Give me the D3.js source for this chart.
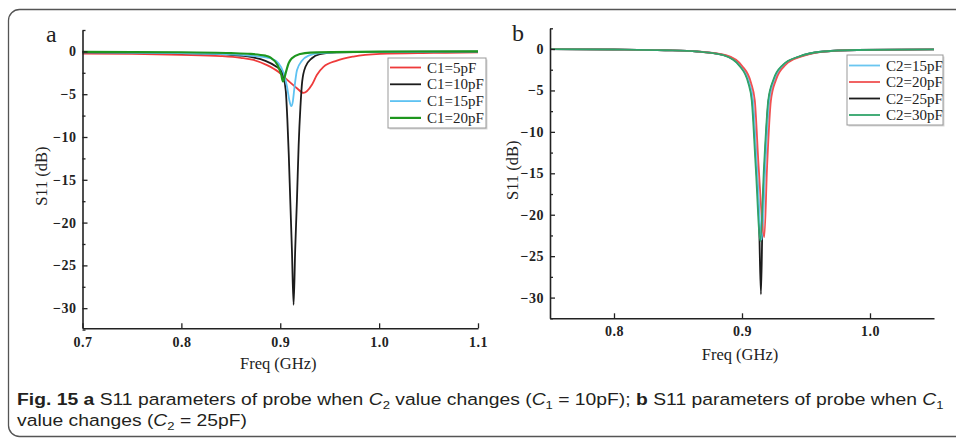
<!DOCTYPE html>
<html>
<head>
<meta charset="utf-8">
<script src="https://cdn.jsdelivr.net/npm/d3@7"></script>
<style>
  body { margin: 0; background: #fff; }
  svg { display: block; }
</style>
</head>
<body>
<div id="chart"></div>
<script>
// ---- data ----
// panel a: C2 = 25pF, C1 varies
var freqA5  = [0.70, 0.75, 0.80, 0.84, 0.86, 0.873, 0.8866, 0.8983, 0.9068, 0.9169, 0.9235, 0.932, 0.937, 0.9437, 0.9573, 0.974, 1.001, 1.055, 1.10];
var s11A5   = [-0.25, -0.3, -0.4, -0.55, -0.75, -1.0, -1.6, -2.4, -3.3, -4.3, -4.85, -3.9, -2.75, -1.8, -1.07, -0.6, -0.3, -0.18, -0.1];
var freqA10 = [0.70, 0.76, 0.82, 0.85, 0.87, 0.885, 0.895, 0.9017, 0.9055, 0.9072, 0.9086, 0.9101, 0.9118, 0.9135, 0.9151, 0.9169, 0.9186, 0.9204, 0.9222, 0.9255, 0.932, 0.940, 0.957, 1.0, 1.1];
var s11A10  = [-0.1, -0.15, -0.25, -0.4, -0.65, -1.1, -1.7, -2.4, -4.5, -8, -12, -17.3, -23.2, -29.6, -23.2, -17.3, -11, -6.5, -3.5, -1.8, -0.8, -0.33, -0.1, -0.05, -0.02];
var freqA15 = [0.70, 0.80, 0.85, 0.875, 0.89, 0.8983, 0.9033, 0.9068, 0.909, 0.9111, 0.9128, 0.9141, 0.9169, 0.9219, 0.9286, 0.9404, 0.97, 1.1];
var s11A15  = [-0.1, -0.2, -0.35, -0.55, -0.8, -1.4, -2.5, -4.1, -5.6, -6.4, -5.8, -4.5, -2.2, -1.1, -0.5, -0.2, -0.08, -0.02];
var freqA20 = [0.70, 0.80, 0.85, 0.87, 0.885, 0.8899, 0.8973, 0.9010, 0.9027, 0.9058, 0.9084, 0.9118, 0.9202, 0.9303, 1.0, 1.1];
var s11A20  = [-0.05, -0.1, -0.2, -0.3, -0.5, -0.7, -1.6, -2.7, -3.5, -2.4, -1.4, -0.8, -0.3, -0.14, -0.03, 0];

// panel b: C1 = 10pF, C2 varies
var freqB15 = [0.75, 0.80, 0.84, 0.865, 0.8864, 0.8994, 0.9059, 0.9086, 0.9117, 0.9154, 0.9182, 0.9214, 0.9255, 0.9330, 0.9450, 0.9640, 0.99, 1.05];
var s11B15  = [-0.02, -0.06, -0.15, -0.3, -0.75, -2.1, -4.1, -6.2, -14.2, -23.0, -14.2, -6.2, -3.7, -1.9, -0.93, -0.3, -0.12, -0.04];
var freqB20 = [0.75, 0.80, 0.84, 0.865, 0.8874, 0.9004, 0.9071, 0.9100, 0.9130, 0.9174, 0.9196, 0.9226, 0.9266, 0.9342, 0.9460, 0.9650, 0.99, 1.05];
var s11B20  = [-0.02, -0.06, -0.15, -0.3, -0.75, -2.1, -4.1, -6.2, -14.2, -22.7, -14.2, -6.2, -3.7, -1.9, -0.93, -0.3, -0.12, -0.04];
var freqB25 = [0.75, 0.80, 0.84, 0.865, 0.8859, 0.8989, 0.9054, 0.9081, 0.9112, 0.9133, 0.9148, 0.9160, 0.9177, 0.9208, 0.9250, 0.9325, 0.9445, 0.9640, 0.99, 1.05];
var s11B25  = [-0.02, -0.06, -0.15, -0.3, -0.75, -2.1, -4.1, -6.2, -14.2, -20.6, -29.6, -20.6, -14.2, -6.2, -3.7, -1.9, -0.93, -0.3, -0.12, -0.04];
var freqB30 = [0.75, 0.80, 0.84, 0.865, 0.8854, 0.8984, 0.9049, 0.9076, 0.9107, 0.9144, 0.9172, 0.9205, 0.9245, 0.9320, 0.9440, 0.9635, 0.99, 1.05];
var s11B30  = [-0.02, -0.06, -0.15, -0.3, -0.75, -2.1, -4.1, -6.2, -14.2, -23.2, -14.2, -6.2, -3.7, -1.9, -0.93, -0.3, -0.12, -0.04];

var legendA = ["C1=5pF", "C1=10pF", "C1=15pF", "C1=20pF"];
var legendB = ["C2=15pF", "C2=20pF", "C2=25pF", "C2=30pF"];
var xTicksA = [0.7, 0.8, 0.9, 1.0, 1.1];
var xTicksB = [0.8, 0.9, 1.0];
var yTicks  = [0, -5, -10, -15, -20, -25, -30];
var yMinorTicks = [2.5, -2.5, -7.5, -12.5, -17.5, -22.5, -27.5, -32.5];

var w = 956, h = 438;
var serif = "'Liberation Serif', 'Times New Roman', serif";

var svg = d3.select("#chart").append("svg")
  .attr("width", w)
  .attr("height", h);

// outer frame (rounded, runs off the right edge)
svg.append("rect")
  .attr("x", 8.5).attr("y", 9.5)
  .attr("width", 970).attr("height", 427)
  .attr("rx", 11).attr("ry", 11)
  .attr("fill", "none")
  .attr("stroke", "#555")
  .attr("stroke-width", 1.3);

function drawPanel(p) {
  var g = svg.append("g");

  var xScale = d3.scaleLinear().domain(p.xDomain).range(p.xRange);
  var yScale = d3.scaleLinear().domain([2.5, p.yBottom]).range(p.yRange);

  var line = d3.line()
    .x(function(d) { return xScale(d[0]); })
    .y(function(d) { return yScale(d[1]); })
    .curve(d3.curveMonotoneX);

  p.series.forEach(function(s) {
    var pts = s.freq.map(function(f, i) { return [f, s.s11[i]]; });
    g.append("path")
      .datum(pts)
      .attr("d", line)
      .attr("fill", "none")
      .attr("stroke", s.color)
      .attr("stroke-width", s.width)
      .attr("stroke-linejoin", "round");
  });

  // y axis
  var yAxis = d3.axisLeft(yScale)
    .tickValues(yTicks)
    .tickSizeInner(-5)
    .tickSizeOuter(0)
    .tickPadding(6)
    .tickFormat(function(d) { return d === 0 ? "0" : "\u2212" + Math.abs(d); });
  var gy = g.append("g")
    .attr("transform", "translate(" + p.xRange[0] + ",0)")
    .call(yAxis);

  g.append("g")
    .attr("transform", "translate(" + p.xRange[0] + ",0)")
    .call(d3.axisLeft(yScale).tickValues(yMinorTicks).tickSize(-3).tickFormat(""))
    .select(".domain").remove();

  // x axis
  var xAxis = d3.axisBottom(xScale)
    .tickValues(p.xTicks)
    .tickSizeInner(-5)
    .tickSizeOuter(0)
    .tickPadding(p.xPad)
    .tickFormat(d3.format(".1f"));
  var gx = g.append("g")
    .attr("transform", "translate(0," + p.yRange[1] + ")")
    .call(xAxis);

  [gx, gy].forEach(function(ax) {
    ax.select(".domain").attr("stroke", "#222").attr("stroke-width", 1.6);
    ax.selectAll(".tick text")
      .attr("font-family", serif)
      .attr("font-weight", "bold")
      .attr("font-size", "14px")
      .attr("letter-spacing", "0.5px")
      .attr("fill", "#222");
  });
  g.selectAll(".tick line").attr("stroke", "#222").attr("stroke-width", 1.3);

  // axis titles
  g.append("text")
    .attr("x", (p.xRange[0] + p.xRange[1]) / 2 - 2)
    .attr("y", p.xTitleY)
    .attr("text-anchor", "middle")
    .attr("font-family", serif)
    .attr("font-size", "16.5px")
    .attr("fill", "#222")
    .text("Freq (GHz)");

  g.append("text")
    .attr("transform", "translate(" + p.yTitleX + "," + ((p.yRange[0] + p.yRange[1]) / 2 - 3) + ") rotate(-90)")
    .attr("text-anchor", "middle")
    .attr("dominant-baseline", "central")
    .attr("font-family", serif)
    .attr("font-size", "16.5px")
    .attr("fill", "#222")
    .text("S11 (dB)");

  // panel letter
  g.append("text")
    .attr("x", p.letterX)
    .attr("y", p.letterY)
    .attr("font-family", serif)
    .attr("font-size", "24px")
    .attr("fill", "#222")
    .text(p.letter);

  // legend
  var lg = g.append("g").attr("transform", "translate(" + p.legend.x + "," + p.legend.y + ")");
  lg.append("rect")
    .attr("x", 1.5).attr("y", 1.5)
    .attr("width", p.legend.w).attr("height", p.legend.h)
    .attr("fill", "#d8d8d8");
  lg.append("rect")
    .attr("width", p.legend.w).attr("height", p.legend.h)
    .attr("fill", "#fff")
    .attr("stroke", "#999")
    .attr("stroke-width", 1);
  p.legendOrder.forEach(function(k, i) {
    var s = p.series.filter(function(d) { return d.name === k; })[0];
    var yy = p.legend.first + i * p.legend.step;
    lg.append("line")
      .attr("x1", 2).attr("x2", p.legend.lineLen)
      .attr("y1", yy).attr("y2", yy)
      .attr("stroke", s.color)
      .attr("stroke-width", s.width);
    lg.append("text")
      .attr("x", p.legend.textX)
      .attr("y", yy + 5)
      .attr("font-family", serif)
      .attr("font-size", "15px")
      .attr("fill", "#222")
      .text(k);
  });
}

drawPanel({
  letter: "a", letterX: 46, letterY: 42,
  xDomain: [0.7, 1.1], xRange: [82.5, 478],
  yBottom: -32.35, yRange: [30, 328.3],
  xTicks: xTicksA, xPad: 9, xTitleY: 369, yTitleX: 41,
  series: [
    { name: legendA[0], freq: freqA5,  s11: s11A5,  color: "#ee3b3b", width: 1.8 },
    { name: legendA[1], freq: freqA10, s11: s11A10, color: "#1c1c1c", width: 1.8 },
    { name: legendA[2], freq: freqA15, s11: s11A15, color: "#5ec2f2", width: 1.8 },
    { name: legendA[3], freq: freqA20, s11: s11A20, color: "#1e961e", width: 2.2 }
  ],
  legendOrder: legendA,
  legend: { x: 388, y: 58, w: 98, h: 70, first: 9.5, step: 16.8, lineLen: 33, textX: 39 }
});

drawPanel({
  letter: "b", letterX: 512, letterY: 41,
  xDomain: [0.75, 1.05], xRange: [550, 934],
  yBottom: -32.5, yRange: [28.3, 318.3],
  xTicks: xTicksB, xPad: 7.5, xTitleY: 360, yTitleX: 512,
  series: [
    { name: legendB[2], freq: freqB25, s11: s11B25, color: "#1c1c1c", width: 1.8 },
    { name: legendB[0], freq: freqB15, s11: s11B15, color: "#6ac6f0", width: 1.8 },
    { name: legendB[1], freq: freqB20, s11: s11B20, color: "#f05252", width: 1.8 },
    { name: legendB[3], freq: freqB30, s11: s11B30, color: "#30a46a", width: 1.8 }
  ],
  legendOrder: legendB,
  legend: { x: 847, y: 55, w: 96, h: 70, first: 10.5, step: 16.5, lineLen: 33, textX: 39 }
});

// ---- caption ----
var capFont = "'Liberation Sans Narrow', 'Liberation Sans', Arial, sans-serif";
var cap = svg.append("g").attr("font-family", capFont).attr("font-size", "17px").attr("fill", "#231f20");

function addRuns(textSel, runs) {
  runs.forEach(function(r) {
    var t = textSel.append("tspan").text(r.t);
    if (r.b) t.attr("font-weight", "bold");
    if (r.i) t.attr("font-style", "italic");
    if (r.sub) t.attr("dy", 3.5).attr("font-size", "11.5px");
    if (r.up) t.attr("dy", -3.5);
  });
}

var line1 = cap.append("text").attr("x", 0).attr("y", 0);
addRuns(line1, [
  { t: "Fig. 15", b: true }, { t: "  " }, { t: "a", b: true },
  { t: " S11 parameters of probe when " }, { t: "C", i: true }, { t: "2", sub: true },
  { t: " value changes (", up: true }, { t: "C", i: true }, { t: "1", sub: true },
  { t: " = 10pF); ", up: true }, { t: "b", b: true },
  { t: " S11 parameters of probe when " }, { t: "C", i: true }, { t: "1", sub: true }
]);
var line2 = cap.append("text").attr("x", 0).attr("y", 0);
addRuns(line2, [
  { t: "value changes (" }, { t: "C", i: true }, { t: "2", sub: true },
  { t: " = 25pF)", up: true }
]);

var len1 = line1.node().getComputedTextLength();
var sx = 927 / len1;
line1.attr("transform", "translate(17,405) scale(" + sx + ",1)");
line2.attr("transform", "translate(17,426) scale(" + sx + ",1)");
</script>
</body>
</html>
